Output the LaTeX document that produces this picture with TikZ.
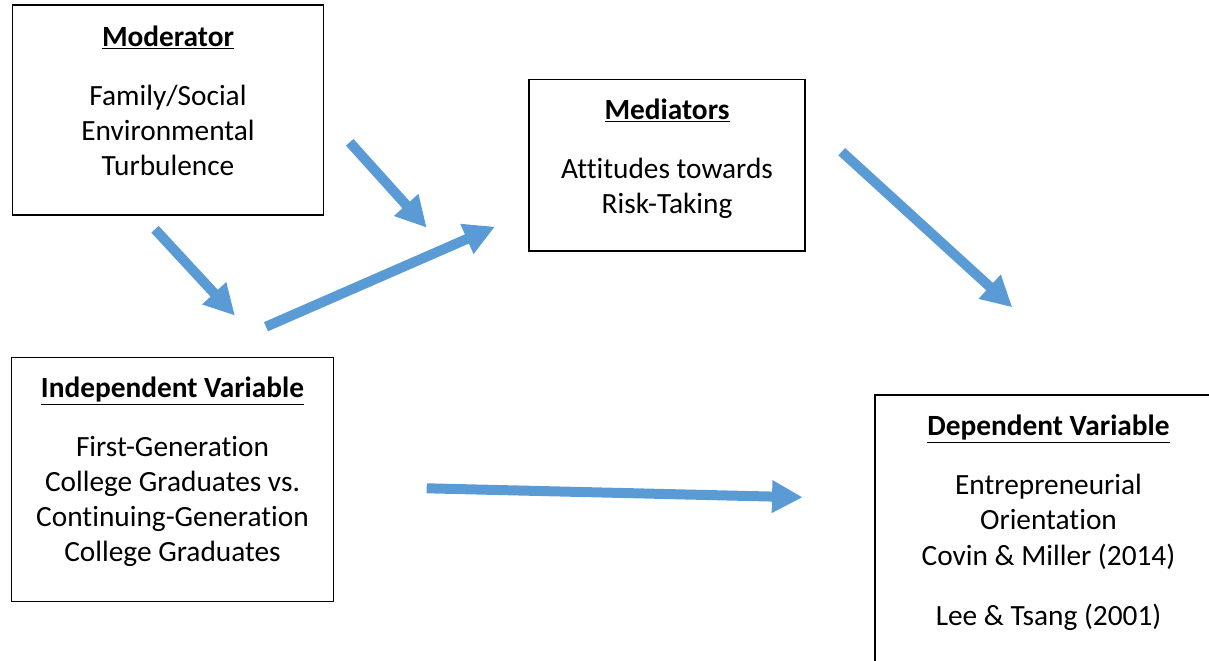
\documentclass[tikz,border=0pt]{standalone}
\usepackage{fontspec}
\setmainfont{Carlito}[Ligatures=NoCommon]
\usetikzlibrary{arrows.meta}
\definecolor{arrowblue}{HTML}{5B9BD5}
\tikzset{
  box/.style={shape=rectangle,draw=black,line width=0.9pt,inner sep=0pt},
  boxtext/.style={anchor=north,align=center,inner sep=0pt,font=\fontsize{22}{26.4}\selectfont},
  fatarrow/.style={draw=arrowblue,line width=7.5pt,-{Triangle[width=23pt,length=23pt]}}
}

\begin{document}
\begin{tikzpicture}[x=0.75pt,y=-0.75pt]
\useasboundingbox (0,0) rectangle (1209,660);
\clip (0,0) rectangle (1209,660);

\node[box,minimum width=233.1pt,minimum height=157.5pt,line width=1.1pt] (mod) at (168,110) {};
\node[box,minimum width=207pt,minimum height=128.6pt] (med) at (667,165.25) {};
\node[box,minimum width=241.2pt,minimum height=183.3pt] (ind) at (172.5,479.5) {};
\node[box,minimum width=260.25pt,minimum height=243.75pt] (dep) at (1048.5,557.5) {};

\node[boxtext] (modtext) at (168,25.5) {\underline{\textbf{Moderator}}\\[17.8pt]
  Family/Social\\ Environmental\\ Turbulence};
\node[boxtext] (medtext) at (667,98.5) {\underline{\textbf{Mediators}}\\[17.8pt]
  Attitudes towards\\ Risk-Taking};
\node[boxtext] (indtext) at (172.5,376.5) {\underline{\textbf{Independent Variable}}\\[17.8pt]
  First-Generation\\ College Graduates vs.\\ Continuing-Generation\\ College Graduates};
\node[boxtext] (deptext) at (1048.5,415) {\underline{\textbf{Dependent Variable}}\\[17.8pt]
  Entrepreneurial\\ Orientation\\ Covin \& Miller (2014)\\[19.2pt] Lee \& Tsang (2001)};

\coordinate (a1s) at (349.7,142.3);
\coordinate (a1e) at (426.7,227.7);
\coordinate (a2s) at (155,229.3);
\coordinate (a2e) at (235,315.7);
\coordinate (a3s) at (266,326.7);
\coordinate (a3e) at (495,226.7);
\coordinate (a4s) at (841.7,151.7);
\coordinate (a4e) at (1012.3,307.3);
\coordinate (a5s) at (426.7,488.3);
\coordinate (a5e) at (802.7,497.3);

\draw[fatarrow] (a1s) -- (a1e);
\draw[fatarrow] (a2s) -- (a2e);
\draw[fatarrow] (a3s) -- (a3e);
\draw[fatarrow] (a4s) -- (a4e);
\draw[fatarrow] (a5s) -- (a5e);
\end{tikzpicture}
\end{document}
